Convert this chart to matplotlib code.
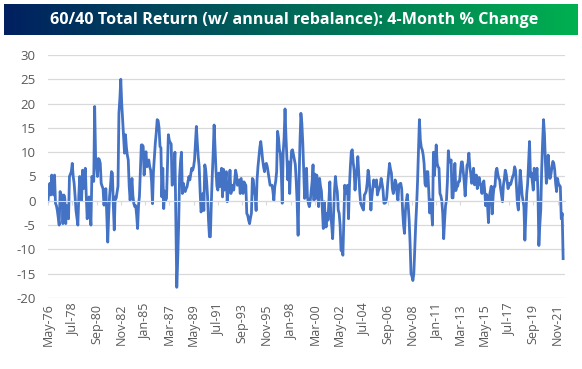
import numpy as np
import matplotlib.pyplot as plt
from matplotlib.colors import LinearSegmentedColormap

plt.rcParams['font.family'] = ['Open Sans', 'DejaVu Sans']
plt.rcParams['axes.unicode_minus'] = False

# variation sur 4 mois (%), un point par mois, de mai 1976 a mai 2022
ret_1970s = [
    0, 2, 3.6, 1.2, 5.3, 3, 1.2, 5.3,                          # 1976 (mai-dec)
    -0.5, -1, -2, -3.5, -5, 1.9, 0.5, 1.2, -4.7, 1.2, 0.5, -4.7,  # 1977
    -1, -2.5, -3.7, 5, 5.5, 6, 7.7, 5, 3.6, 1, -2, -3.5,        # 1978
    -5, 1, 5, 3, 0.1, 6.3, 2.5, 5, 6.7, 1, -3.7, -1,            # 1979
]
ret_1980s = [
    0.8, -2, -5, 5, 4.5, 4, 19.4, 9, 7, 5, 8.7, 8.5,
    7.7, 3.6, 3, 2.5, -0.9, 1, 2.5, -3, -8.5, -3, 1, 3.2,
    6, 5.7, -1, -6, 0.8, 0.5, 1.8, 3, 18, 21, 25, 20,
    16.7, 13.2, 9.8, 13.6, 11, 9.4, 8.4, 3, 0.1, 2.9, 4.6, 1,
    -0.6, -1.2, -1, -3, -5.7, -1, 1, 6, 11.5, 11.5, 11.2, 5.3,
    9, 10.1, 7, 8, 8.4, 7, 6.3, 4, -0.6, 6, 9, 11.9,
    14, 16.7, 16.5, 15, 11.2, 10.9, 0.8, 6.7, -1.6, 2, 0.1, 0.5,
    7, 13.6, 12.4, 12, 11.7, 3.2, 3.5, 6, 10, -4, -17.8, -12,
    -5, 5, 8, 10, 1.5, 3.6, 2.5, 1.9, 2.5, 2.9, 4, 5,
    4.3, 5.5, 6.7, 6.3, 7, 8.4, 12, 15.3, 11.9, 9, 7, 1.9,
]
ret_1990s = [
    -2.3, -1.5, 1.5, -2, 7.4, 6.3, 4, 0.8, -4, -7.4, -7.4, -0.5,
    5, 9.8, 15.6, 11.2, 6.3, 3, 2.2, 5.7, 2.9, 5, 6.7, 0.8,
    6.5, 2.2, 4, 6, -0.2, 2, 3, 6.3, 1.5, 2.5, 3.2, 2.2,
    4, 6.3, 5.3, 3.2, 4, 4.3, 1.5, 4.6, 3, 1.5, 3.9, 3.5,
    3.2, -2.6, -3, -4, -4.7, -3.5, -2.5, 4.6, 4.3, 2, 1, -2,
    4.3, 7, 9.1, 11, 12.2, 10.5, 8.4, 7, 6, 7.5, 7.7, 7,
    5.7, 4.3, 3.2, 3.2, 3.2, 2, 0.1, 2.9, 4, 6, 14.3, 13,
    10.5, 9.8, 5.7, -0.5, 9.8, 13, 18.9, 13.2, 9, 4.3, 8, 1.5,
    7, 10.3, 10.5, 9.5, 8.5, 7.5, 4, -0.5, -7.1, 4, 12, 18,
    16, 12, 6.3, 0.5, 3, 6.7, 0.8, -0.5, -1.2, 0, 2, 3.9,
]
ret_2000s = [
    7.4, 0.1, 5.5, 0.5, 5.3, 2, -1.2, 4.6, 3, 2, -1.9, -5.7,
    -0.2, -3, -5.4, -2.6, -4, 0, 3.9, -3, -5, -7.8, -3, 2,
    5, 3, 1.9, -1.9, -2.6, -5, -10.2, -10.2, -11.2, -4, 3.2, 1.5,
    2.5, 3.2, -3.7, 2.9, 7, 10.1, 10.5, 8, 6.3, 2.2, 5, 6.3,
    9.1, 5.7, 2, -0.5, -1, -1.5, -1.9, 1.2, 1.5, 2, 3.6, 6.3,
    5, 2, -1.9, 0.8, 2.5, 4.3, 3, 3, 4.3, 1.2, 2, 2.5,
    3.2, 4.6, 3.5, 2.2, -0.5, -0.5, -0.3, 0.8, 3.5, 5.7, 7.7, 6.5,
    5.7, 2.5, 1.5, 2.5, 4.3, 3.6, 1.5, 0.1, 3.2, 3.5, 3.6, 2.5,
    -2, -5, -6.7, -2, 0, 1.3, -1, -4, -8.8, -15, -15.5, -16.4,
    -15, -10, -5, -1, 4, 10, 16.7, 12.5, 11, 10.5, 9.5, 7.7,
]
ret_2010s = [
    3.5, 3, 6, 6, 2, -2.5, 0.2, -2, -5, 10, 5.2, 8,
    11.5, 7.7, 7, 6.7, 1.5, 1, 0, -2.7, -7.8, -4, -1, 0.2,
    4, 10.3, 8, 8, 8.4, 0.6, 0.6, 4, 7.7, 2.1, 3, 3,
    4, 4, 6, 8, 8, 6, 3.9, 1, 4, 7.3, 7.7, 9.8,
    7, 5.6, 3.6, 5, 6.7, 3.3, 4, 5.3, 2.5, 3.5, 4.8, 3.7,
    3, 1.5, 3.4, 4.1, 2, -1, 1.3, -1, -4.5, 1, 2, 3,
    -2.7, 1, 2.9, 3, 6, 6.7, 5.5, 4.6, 4.3, 2.5, 1.2, -0.2,
    3.2, 4.5, 6.3, 5.5, 4, 2.5, 3.6, 3.2, 3.5, 4.3, 5, 5.5,
    7, 6.3, 3, -0.5, -1.9, 2.2, 6.3, 4, 1.2, 0, -1.2, -8.1,
    -3, 1.5, 3.6, 8, 12.2, 5, 5.7, 4, 2.2, 6.7, 4.3, 5,
]
ret_2020s = [
    6.7, 2, -9.2, -5, -1.9, 6.3, 12, 16.7, 13.6, 8, 3.6, 5,
    9.4, 6, 4.6, 5.5, 7, 8.1, 7.7, 6.3, 3.5, 1.9, 4.6, 3.5,
    3.2, 2.9, -3.7, -2.6, -11.9,                                 # 2022 (jan-mai)
]

tick_labels = ['May-76', 'Jul-78', 'Sep-80', 'Nov-82', 'Jan-85', 'Mar-87',
               'May-89', 'Jul-91', 'Sep-93', 'Nov-95', 'Jan-98', 'Mar-00',
               'May-02', 'Jul-04', 'Sep-06', 'Nov-08', 'Jan-11', 'Mar-13',
               'May-15', 'Jul-17', 'Sep-19', 'Nov-21']
tick_step = 26  # mois entre deux etiquettes

values = np.array(ret_1970s + ret_1980s + ret_1990s + ret_2000s + ret_2010s + ret_2020s)
months = np.arange(len(values))

fig = plt.figure(figsize=(5.82, 3.69), dpi=100)

# bandeau du titre (degrade bleu -> vert)
tax = fig.add_axes([4 / 582, 1 - 35 / 369, 574 / 582, 31 / 369])
grad = np.linspace(0, 1, 256).reshape(1, -1)
cmap = LinearSegmentedColormap.from_list('bandeau', ['#002060', '#00b050'])
tax.imshow(grad, aspect='auto', cmap=cmap, extent=[0, 1, 0, 1])
tax.set_axis_off()
tax.text(0.505, 0.5, '60/40 Total Return (w/ annual rebalance): 4-Month % Change',
         color='white', fontweight='bold', fontsize=11.6, ha='center', va='center')

# graphique
ax = fig.add_axes([48 / 582, 1 - 298 / 369, (565 - 48) / 582, (298 - 55) / 369])
ax.plot(months, values, color='#4472c4', lw=2)
ax.set_ylim(-20, 30)
ax.set_yticks(np.arange(-20, 31, 5))
ax.set_xlim(0, 554)
ax.grid(axis='y', color='#d9d9d9', lw=0.9)
ax.set_axisbelow(True)
for s in ['top', 'right', 'left']:
    ax.spines[s].set_visible(False)
ax.spines['bottom'].set_position(('data', 0))
ax.spines['bottom'].set_color('#d9d9d9')
ax.set_xticks(months[::tick_step])
ax.tick_params(axis='x', direction='out', length=3, color='#d9d9d9', labelbottom=False)
ax.tick_params(axis='y', length=0, labelsize=9.5, labelcolor='#595959', pad=9)

sec = ax.secondary_xaxis(0)
sec.set_xticks(months[::tick_step], tick_labels, rotation=90)
sec.tick_params(length=0, labelsize=9, labelcolor='#595959', pad=4)
sec.spines['bottom'].set_visible(False)

fig.savefig('out.png', dpi=100)
